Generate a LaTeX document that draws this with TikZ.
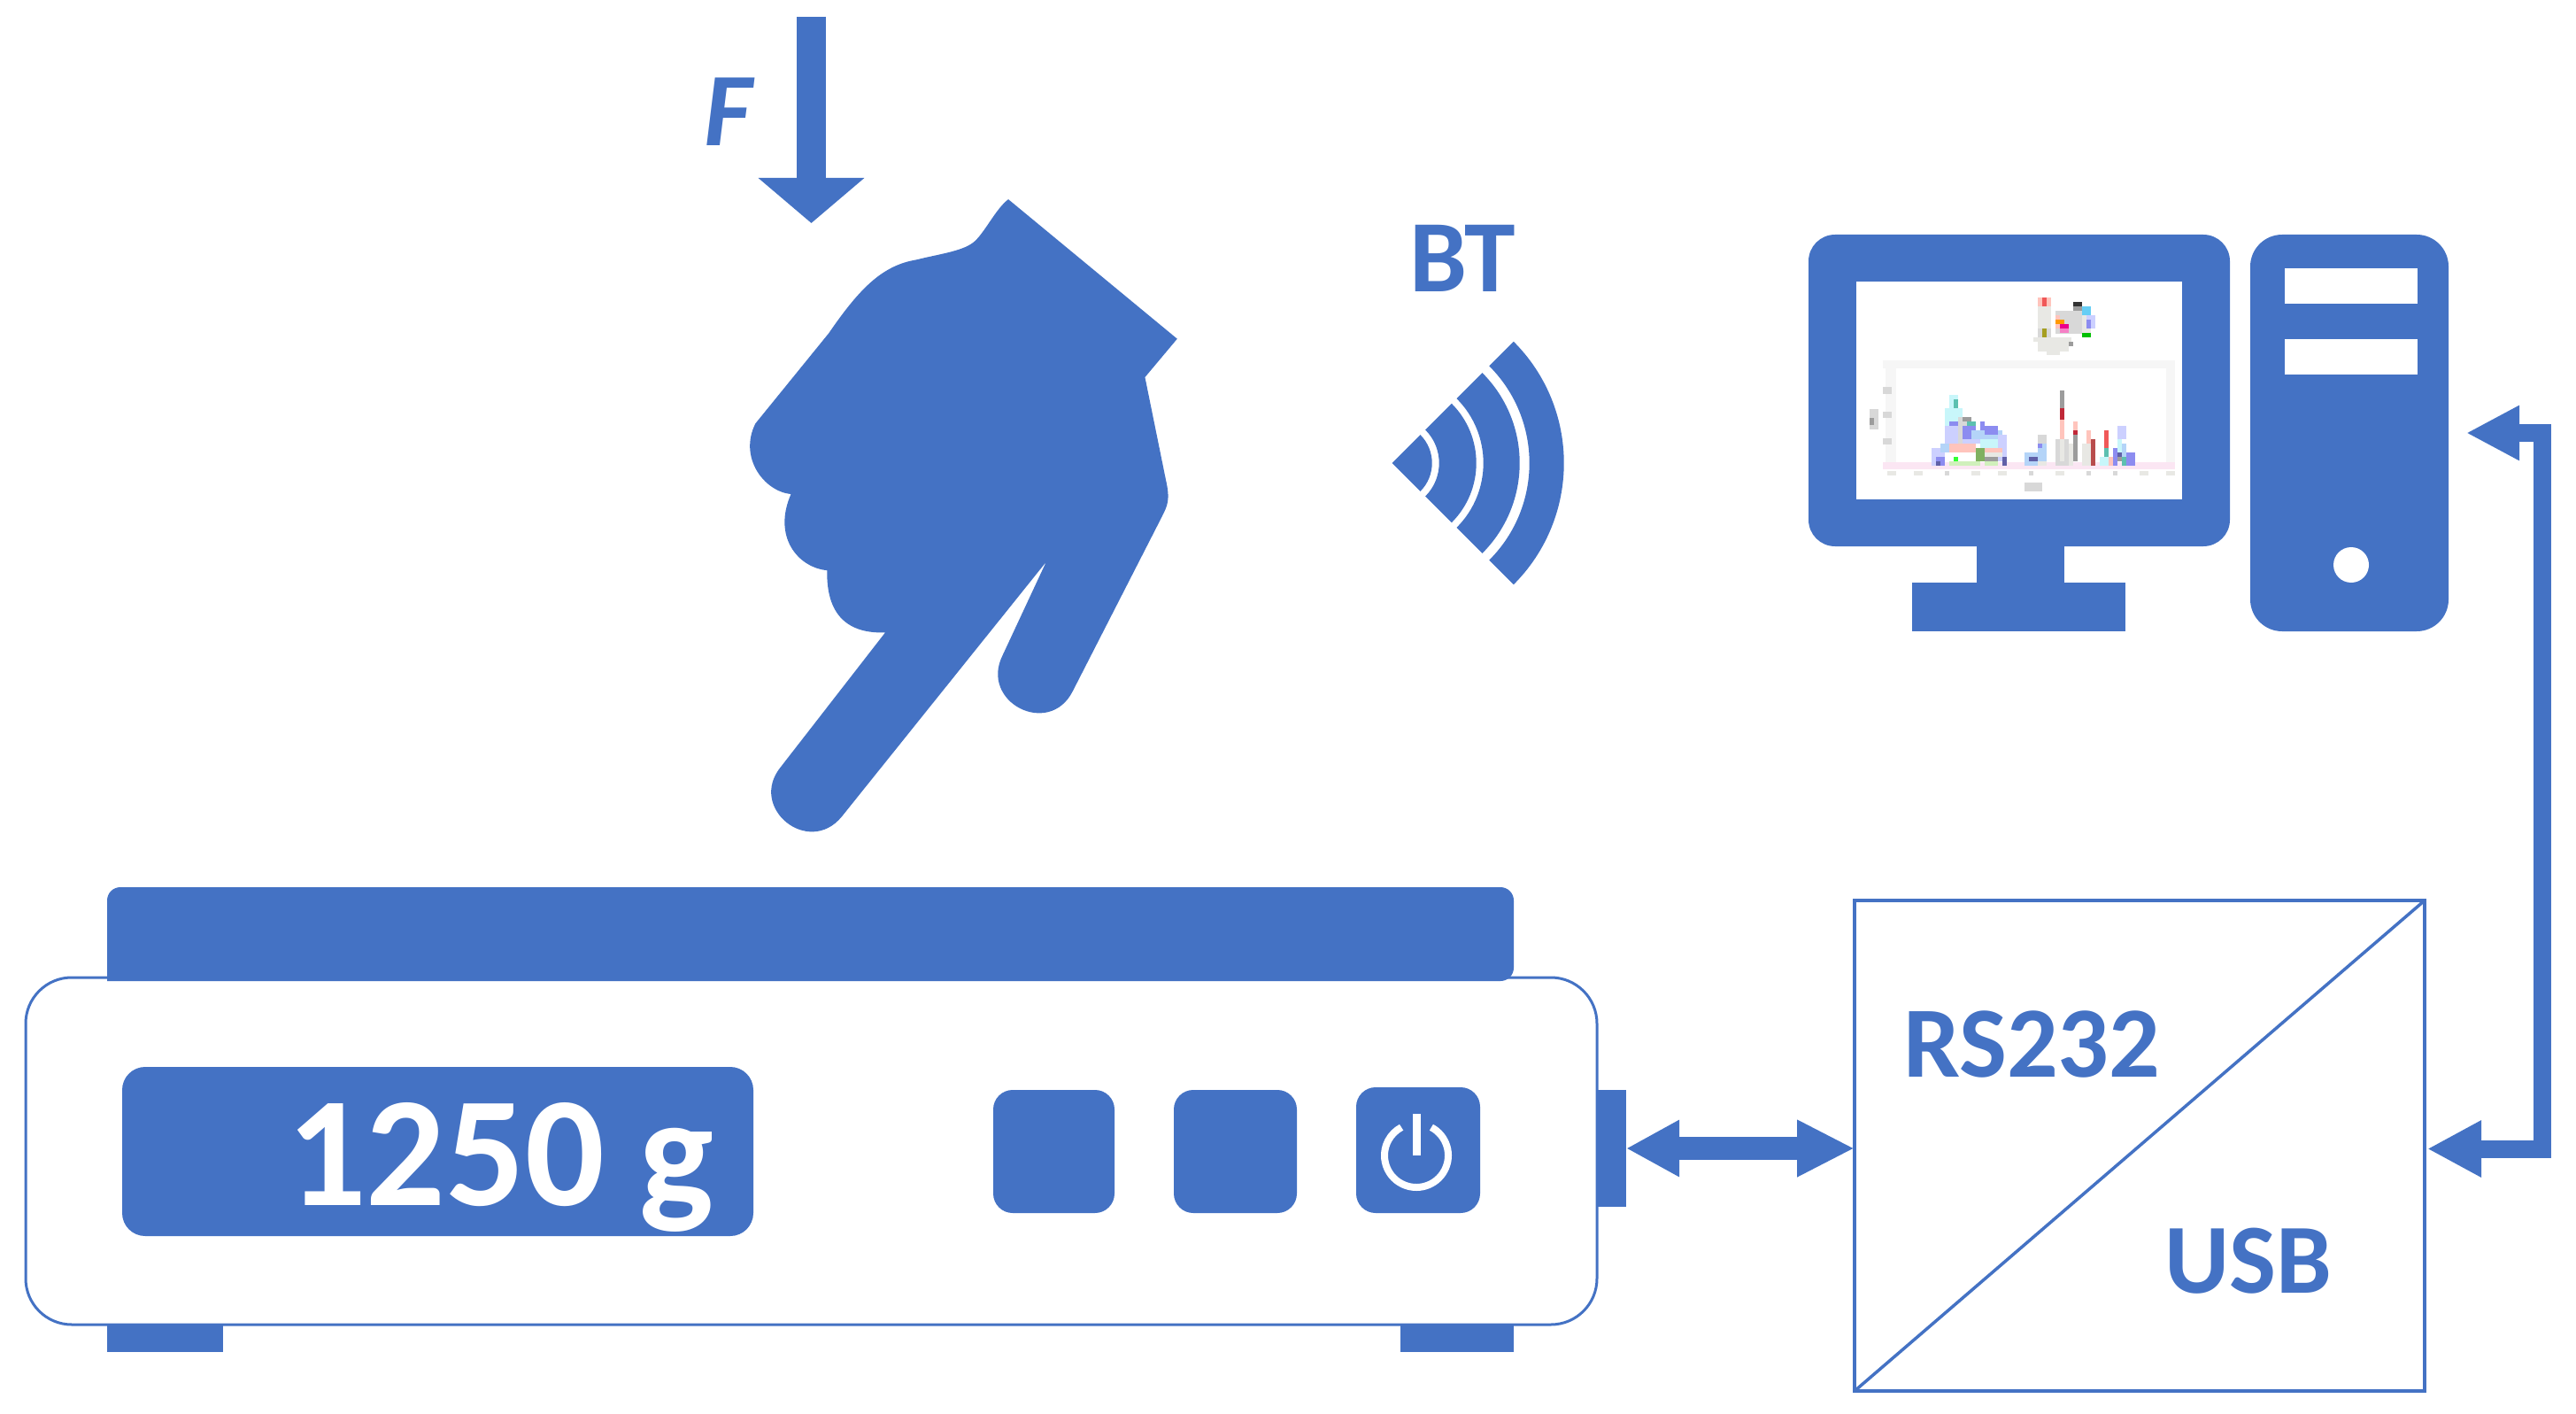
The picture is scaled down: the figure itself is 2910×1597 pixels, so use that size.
\documentclass[tikz,border=0pt]{standalone}
\usepackage{fontspec}
\setmainfont{Carlito}
\usetikzlibrary{arrows.meta,calc}
\definecolor{ofblue}{HTML}{4472C4}
\definecolor{cA}{HTML}{F6F6F6}
\definecolor{cB}{HTML}{FBE6F3}
\definecolor{cG}{HTML}{D8D8D8}
\definecolor{cD}{HTML}{9C9C9C}
\definecolor{cL}{HTML}{E8E8E4}
\definecolor{cPB}{HTML}{CCD0FF}
\definecolor{cMB}{HTML}{8C8CF0}
\definecolor{cC}{HTML}{C8F6FA}
\definecolor{cT}{HTML}{5CC0B0}
\definecolor{cPR}{HTML}{FFC4BC}
\definecolor{cR}{HTML}{F05858}
\definecolor{cDR}{HTML}{C02838}
\definecolor{cGn}{HTML}{80B060}
\definecolor{cPG}{HTML}{D0F0BC}
\definecolor{cSB}{HTML}{B4D4F8}
\definecolor{cNV}{HTML}{6060A8}
\tikzset{
  x=1pt,y=-1pt,
  solidbox/.style={fill=ofblue,draw=none,inner sep=0pt,outer sep=0pt},
  outlinebox/.style={draw=ofblue,fill=white,inner sep=0pt,outer sep=0pt},
  fatarrow/.style={draw=ofblue,line width=#1,line join=miter},
  lbl/.style={text=ofblue,inner sep=0pt,outer sep=0pt,anchor=base west,font=\bfseries},
}
\newcommand{\fsz}[1]{\fontsize{#1}{#1}\selectfont}
\begin{document}
\begin{tikzpicture}
\useasboundingbox (0,0) rectangle (2910,1597);
\fill[white] (0,0) rectangle (2910,1597);

% force arrow
\coordinate (ftop) at (916.5,19);
\coordinate (ftip) at (916.5,252);
\draw[fatarrow=33pt,-{Triangle[width=117pt,length=51pt]}] (ftop) -- (ftip);
\node[lbl,font=\bfseries\itshape\fsz{118}] (flabel) at (795,165) {F};

% hand
\begin{scope}[shift={(780,0)},x=0.6378pt,y=-0.6378pt]
\fill[ofblue] (563,353) -- (862,600) -- (805,668) -- (842,850)
 .. controls (850,885) and (845,895) .. (835,915) -- (677,1224)
 .. controls (635,1307) and (511,1243) .. (553,1160) -- (630,995) -- (268,1446)
 .. controls (209,1518) and (101,1430) .. (160,1358) -- (345,1120)
 .. controls (290,1122) and (240,1100) .. (242,1010)
 .. controls (190,1005) and (145,950) .. (178,875)
 .. controls (130,870) and (85,810) .. (115,750) -- (245,590)
 .. controls (300,510) and (340,470) .. (400,460)
 .. controls (440,450) and (480,445) .. (500,430)
 .. controls (520,415) and (540,370) .. (563,353) -- cycle;
\end{scope}

% bluetooth waves
\node[lbl,font=\bfseries\fsz{116}] (bt) at (1592,330) {BT};
\coordinate (wc) at (1572.7,523);
\fill[ofblue] (wc) -- ($(wc)+(45:45pt)$) arc[start angle=45,end angle=-45,radius=45pt] -- cycle;
\foreach \ra/\rb in {53/95,103/144,155/194}{
  \fill[ofblue] ($(wc)+(45:\rb pt)$) arc[start angle=45,end angle=-45,radius=\rb pt]
    -- ($(wc)+(-45:\ra pt)$) arc[start angle=-45,end angle=45,radius=\ra pt] -- cycle;
}

% monitor
\node[solidbox,rounded corners=30pt,minimum width=476pt,minimum height=352pt] (monitor) at (2281,441) {};
\node[solidbox,minimum width=99pt,minimum height=45pt] (stand) at (2282.5,637) {};
\node[solidbox,minimum width=241pt,minimum height=55pt] (mbase) at (2280.5,685.5) {};
\node[fill=white,inner sep=0pt,minimum width=368pt,minimum height=245pt] (screen) at (2281,441) {};
% miniature chart on the screen
\begin{scope}[shift={(2080,310)},x=0.3333pt,y=-0.3333pt]
\foreach \c/\xa/\ya/\xb/\yb in {
 cA/140/290/1125/318, cA/150/290/185/660, cA/1100/290/1130/660, cB/140/635/1130/660,
 cG/140/380/170/405, cG/140/465/170/485, cG/140/555/170/575,
 cG/97/455/125/525, cD/97/485/112/510, cG/620/705/680/735,
 cL/155/665/185/680, cL/245/665/275/680, cG/350/665/365/680, cL/440/665/470/680,
 cL/530/665/560/680, cG/635/665/650/680, cL/725/665/755/680, cG/830/665/845/680,
 cG/920/665/935/680, cL/1010/665/1040/680, cL/1100/665/1130/680,
 % upper cluster
 cPR/665/78/710/108, cR/680/78/695/108, cL/665/108/710/182, cG/725/122/815/200,
 cL/650/212/780/228, cL/665/228/770/262, cL/695/258/740/272, cD/770/228/785/243,
 cL/815/138/845/197, cPB/830/138/860/182, cMB/830/152/845/182,
 cPR/725/138/740/182, {orange!80!yellow}/725/152/755/167,
 magenta/740/167/770/182, {magenta!50}/740/182/770/197,
 cD/785/108/815/122, {black!80}/785/92/815/108, {cyan!60}/815/108/845/138,
 cG/665/182/710/212, {olive!80}/680/182/695/212, {green!75!black}/815/197/845/212,
 % left group
 cPB/305/588/350/648, cSB/335/573/365/603, cMB/320/618/350/648, cNV/320/633/335/648,
 cC/365/408/395/453, cC/350/453/410/513, cPB/350/513/395/573, cT/380/423/395/453, cC/365/437/380/483, cMB/365/498/410/513,
 cG/395/483/440/573, cD/410/483/440/498, cT/425/498/455/528,
 cMB/410/513/455/558, cPB/410/558/470/573, cSB/440/528/545/558, cMB/470/498/485/528,
 cMB/485/513/530/543, cPB/530/543/560/633, cC/470/558/530/588, cPR/365/573/455/603,
 cGn/455/588/485/633, cD/485/618/530/633, cPG/365/633/470/648, {green!80}/380/618/395/633,
 cPR/485/588/545/603, cL/485/603/545/618, cPG/485/633/530/648, cNV/545/618/560/648,
 % middle group
 cSB/620/603/665/648, cNV/635/618/665/633, cSB/665/573/695/648,
 cG/665/543/695/573, cMB/665/573/680/588, cL/665/633/695/648,
 % right group
 cG/725/558/770/648, cPR/740/453/755/558, cDR/740/453/755/493, cD/740/393/755/453, cL/740/558/755/633,
 cPR/785/498/800/543, cDR/785/528/800/543, cD/785/543/800/633, cL/770/573/785/648,
 cL/815/573/860/648, cPR/830/528/845/573, {red!60!black!70}/845/558/860/648,
 cC/875/618/905/648, cPR/890/573/905/618, cR/890/528/905/588, cT/890/588/905/618, cPR/905/618/920/648,
 cMB/920/588/935/648, cPB/935/513/965/558, cC/935/558/950/603, cSB/950/573/965/648,
 cNV/935/603/950/618, cD/935/618/950/633, cT/950/618/965/648, cMB/965/603/995/648
}{
  \fill[\c] (\xa,\ya) rectangle (\xb,\yb);
}
\end{scope}

% tower
\node[solidbox,rounded corners=36pt,minimum width=224pt,minimum height=448pt] (tower) at (2654,489) {};
\node[fill=white,inner sep=0pt,minimum width=150pt,minimum height=40pt] (slota) at (2656,323) {};
\node[fill=white,inner sep=0pt,minimum width=150pt,minimum height=40pt] (slotb) at (2656,403) {};
\node[circle,fill=white,inner sep=0pt,minimum size=40pt] (led) at (2656,638) {};

% scale
\node[outlinebox,line width=3pt,rounded corners=52pt,minimum width=1775pt,minimum height=392pt] (body) at (916.5,1300) {};
\fill[ofblue,rounded corners=15pt] (121,1108) -- (121,1002) -- (1710,1002) -- (1710,1108) [sharp corners] -- cycle;
\node[solidbox,minimum width=131pt,minimum height=31pt] (footl) at (186.5,1511.5) {};
\node[solidbox,minimum width=128pt,minimum height=31pt] (footr) at (1646,1511.5) {};
\node[solidbox,rounded corners=26pt,minimum width=713pt,minimum height=191pt] (display) at (494.5,1300.5) {};
\node[lbl,text=white,font=\bfseries\fsz{177}] (weight) at (324,1361) {1250 g};
\node[solidbox,rounded corners=22pt,minimum width=137pt,minimum height=139pt] (btna) at (1190.5,1300.5) {};
\node[solidbox,rounded corners=22pt,minimum width=139pt,minimum height=139pt] (btnb) at (1395.5,1300.5) {};
\node[solidbox,rounded corners=22pt,minimum width=140pt,minimum height=142pt] (btnc) at (1602,1299) {};
\coordinate (pwr) at (1600,1305);
\draw[white,line width=8pt] ($(pwr)+(62:36pt)$) arc[start angle=62,end angle=-242,radius=36pt];
\coordinate (pwrtop) at (1600,1258);
\draw[white,line width=9pt] (pwrtop) -- (pwr);
\node[solidbox,minimum width=33pt,minimum height=132pt] (port) at (1820.5,1297) {};

% converter
\node[outlinebox,line width=4.5pt,minimum width=644pt,minimum height=554pt] (conv) at (2417,1294) {};
\draw[ofblue,line width=3.5pt] (conv.south west) -- (conv.north east);
\node[lbl,font=\bfseries\fsz{114}] (rs) at (2150,1216) {RS232};
\node[lbl,font=\bfseries\fsz{112}] (usb) at (2445,1460) {USB};

% connectors
\draw[fatarrow=26pt,{Triangle[width=60pt,length=60pt]}-{Triangle[width=60pt,length=65pt]}] (port.east) -- (conv.west |- port.east);
\coordinate (cin) at (2742,1297.5);
\coordinate (tin) at (2786,489);
\coordinate (bendb) at (2872,1297.5);
\coordinate (bendt) at (2872,489);
\draw[fatarrow=20pt,{Triangle[width=60pt,length=61pt]}-{Triangle[width=58pt,length=60pt]}] (cin) -- (bendb) -- (bendt) -- (tin);
\end{tikzpicture}
\end{document}
